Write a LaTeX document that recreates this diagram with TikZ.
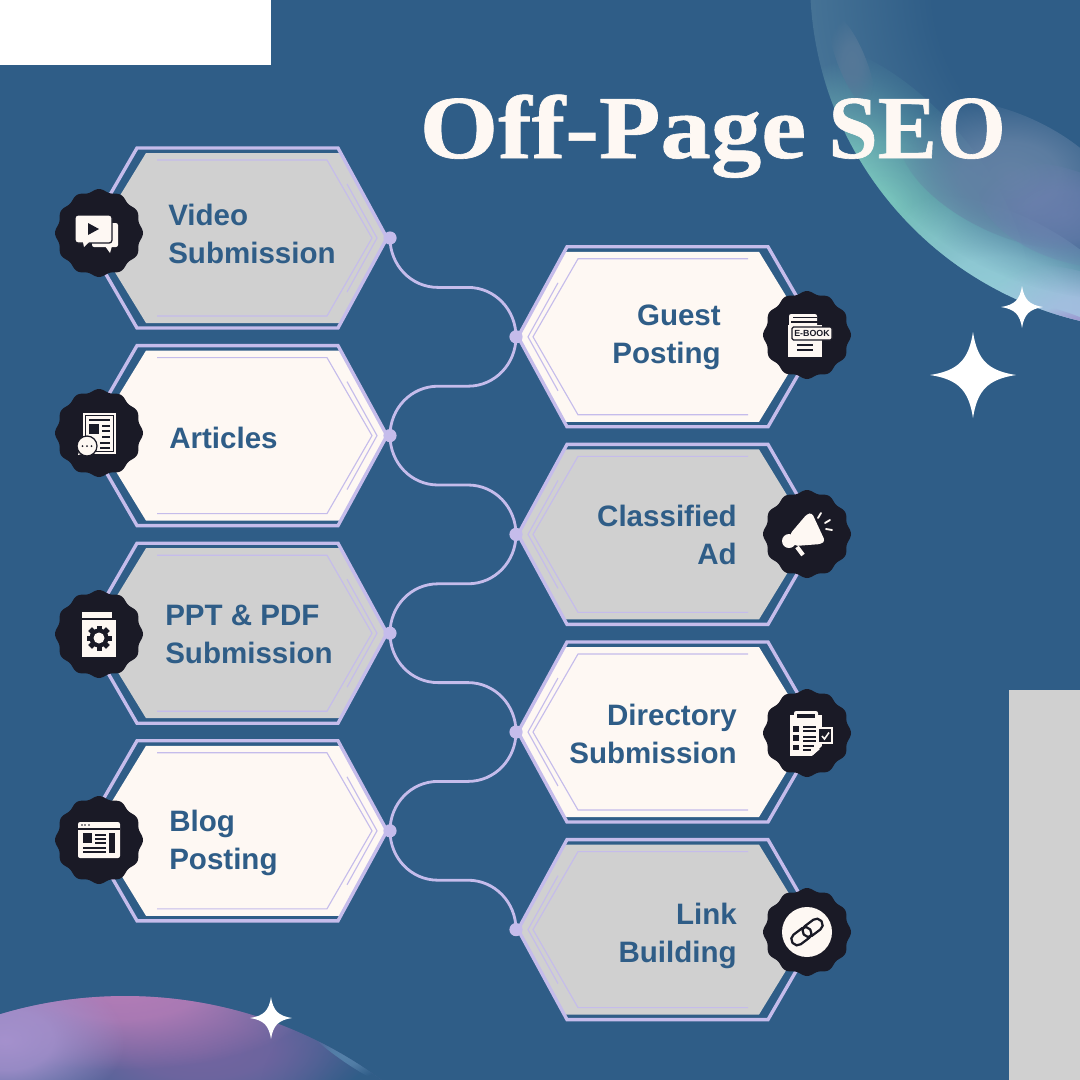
\documentclass[tikz,border=0pt]{standalone}
\usepackage{fontspec}
\setmainfont{Liberation Sans}
\newfontfamily\titlefont[BoldFeatures={FakeBold=0.7}]{Liberation Serif}
\usepackage{xcolor}
\usetikzlibrary{positioning, calc, fadings}

\pgfdeclareradialshading{softglowshade}{\pgfpointorigin}{color(0bp)=(pgftransparent!0); color(10bp)=(pgftransparent!15); color(25bp)=(pgftransparent!100); color(50bp)=(pgftransparent!100)}
\pgfdeclarefading{softglow}{\pgfuseshading{softglowshade}}
\pgfdeclareradialshading{softcovershade}{\pgfpointorigin}{color(0bp)=(pgftransparent!0); color(15bp)=(pgftransparent!0); color(25bp)=(pgftransparent!100); color(50bp)=(pgftransparent!100)}
\pgfdeclarefading{softcover}{\pgfuseshading{softcovershade}}

\tikzset{
  hexedge/.style={line width=2.4pt, hexlav, line join=miter},
  hexthin/.style={line width=0.8pt, hexlav},
  wire/.style={line width=2pt, hexlav},
  dotnode/.style={circle, fill=hexlav, inner sep=0pt, minimum size=0.33cm},
  hexlabel/.style={font=\fontsize{21}{27}\selectfont\bfseries, text=seoblue, inner sep=0pt},
  icon/.style={fill=cream},
  icondark/.style={fill=badgedark},
  iconline/.style={draw=badgedark, line width=0.9pt}
}

% hexagon: tip x, tip y, direction, fill colour
\newcommand{\hexbox}[4]{
  \begin{scope}[shift={(#1,#2)}, xscale=#3]
    \fill[#4] (-241,-85) -- (-46,-85) -- (0,0) -- (-46,85) -- (-241,85) -- (-293,0) -- cycle;
    \draw[hexedge] (-49,-90) -- (0,0) -- (-49,90) -- (-250,90) -- (-302,0) -- (-250,-90) -- cycle;
    \draw[hexthin] (-230,-78) -- (-60,-78) -- (-15,0) -- (-60,78) -- (-230,78);
    \draw[hexthin] (-40,-54) -- (-10,0) -- (-40,54);
  \end{scope}
}

% connector: direction, from, to
\newcommand{\wirelink}[3]{
  \draw[wire] (#2.center) .. controls +(0,27) and +({-27*#1},0) .. ($(#2.center)+({48*#1},49.4)$)
    -- ($(#3.center)+({-48*#1},-49.4)$) .. controls +({27*#1},0) and +(0,-27) .. (#3.center);
}

% wavy round badge
\newcommand{\badge}[2]{
  \fill[badgedark] plot[domain=0:360, samples=145, smooth] ({#1+(42.6+1.4*cos(12*\x))*cos(\x)},{#2+(42.6+1.4*cos(12*\x))*sin(\x)}) -- cycle;
}

% four pointed star
\newcommand{\sparkle}[3]{
  \begin{scope}[shift={(#1,#2)}, scale=#3]
    \fill[white] (0,-1) .. controls (.1,-.35) and (.35,-.1) .. (1,0)
      .. controls (.35,.1) and (.1,.35) .. (0,1)
      .. controls (-.1,.35) and (-.35,.1) .. (-1,0)
      .. controls (-.35,-.1) and (-.1,-.35) .. (0,-1) -- cycle;
  \end{scope}
}

\begin{document}
\begin{tikzpicture}[x=0.025cm, y=-0.025cm]

% Define colors
\definecolor{seoblue}{RGB}{47,93,135}
\definecolor{hexlav}{RGB}{197,188,235}
\definecolor{hexgray}{RGB}{208,208,208}
\definecolor{cream}{RGB}{254,248,243}
\definecolor{badgedark}{RGB}{26,26,38}
\definecolor{bubbase}{RGB}{70,115,150}
\definecolor{bubmid}{RGB}{100,130,165}
\definecolor{bubpale}{RGB}{85,120,152}
\definecolor{bubteal}{RGB}{120,195,188}
\definecolor{bubsky}{RGB}{150,208,218}
\definecolor{bubdusk}{RGB}{112,128,178}
\definecolor{bubrim}{RGB}{165,190,225}
\definecolor{bubviolet}{RGB}{155,145,205}
\definecolor{lowbase}{RGB}{72,100,150}
\definecolor{lowpink}{RGB}{182,125,184}
\definecolor{lowlilac}{RGB}{165,145,205}
\definecolor{lowdusk}{RGB}{115,100,160}
\definecolor{lowrim}{RGB}{85,130,170}

\useasboundingbox (0,0) rectangle (1080,1080);
\fill[seoblue] (0,0) rectangle (1080,1080);

% Corner blocks
\fill[white] (0,0) rectangle (271,65);
\fill[hexgray] (1009,690) rectangle (1080,1080);

% Bubble top right
\begin{scope}
  \clip (1160,-20) circle (350);
  \fill[bubbase] (1160,-20) circle (350);
  \fill[bubteal, path fading=softglow, rotate around={-50:(885,200)}] (885,200) ellipse (190 and 100);
  \fill[bubsky, path fading=softglow, rotate around={-28:(1000,305)}] (1000,305) ellipse (160 and 90);
  \fill[bubrim, path fading=softglow, rotate around={-20:(1085,325)}] (1085,325) ellipse (110 and 50);
  \fill[seoblue, path fading=softcover] (1125,-15) circle (315);
  \fill[bubmid, path fading=softglow, rotate around={-25:(1010,175)}] (1010,175) ellipse (120 and 60);
  \fill[bubdusk, opacity=.7, path fading=softglow, rotate around={-20:(1065,215)}] (1065,215) ellipse (90 and 45);
  \fill[bubpale, path fading=softglow, rotate around={-68:(852,62)}] (852,62) ellipse (50 and 14);
  \fill[bubviolet, path fading=softglow, rotate around={-22:(1080,330)}] (1080,330) ellipse (65 and 12);
\end{scope}

% Bubble bottom left
\begin{scope}
  \clip (125,1430) circle (434);
  \fill[lowbase] (125,1430) circle (434);
  \fill[seoblue, path fading=softglow] (370,1090) ellipse (110 and 90);
  \fill[lowdusk, path fading=softglow] (200,1050) ellipse (170 and 70);
  \fill[lowpink, path fading=softglow] (120,985) ellipse (210 and 85);
  \fill[lowlilac, path fading=softglow] (5,1040) ellipse (120 and 75);
  \fill[lowrim, path fading=softglow, rotate around={-35:(345,1055)}] (345,1055) ellipse (45 and 6);
\end{scope}

% Title
\node[anchor=base west, inner sep=0pt, text=cream] (title) at (419.5,158) {\fontsize{64}{70}\selectfont\titlefont\bfseries\scalebox{1.12}[1]{Off-Page} \scalebox{.985}[1]{SEO}};

% Hexagons on the left
\hexbox{387}{238}{1}{hexgray}
\hexbox{387}{435.6}{1}{cream}
\hexbox{387}{633.2}{1}{hexgray}
\hexbox{387}{830.8}{1}{cream}

% Hexagons on the right
\hexbox{518}{336.8}{-1}{cream}
\hexbox{518}{534.4}{-1}{hexgray}
\hexbox{518}{732}{-1}{cream}
\hexbox{518}{929.6}{-1}{hexgray}

% Connection points
\node[dotnode] (dotvideo) at (390,238) {};
\node[dotnode] (dotguest) at (516,336.8) {};
\node[dotnode] (dotarticles) at (390,435.6) {};
\node[dotnode] (dotclassified) at (516,534.4) {};
\node[dotnode] (dotppt) at (390,633.2) {};
\node[dotnode] (dotdirectory) at (516,732) {};
\node[dotnode] (dotblog) at (390,830.8) {};
\node[dotnode] (dotlink) at (516,929.6) {};

% Connectors
\wirelink{1}{dotvideo}{dotguest}
\wirelink{-1}{dotguest}{dotarticles}
\wirelink{1}{dotarticles}{dotclassified}
\wirelink{-1}{dotclassified}{dotppt}
\wirelink{1}{dotppt}{dotdirectory}
\wirelink{-1}{dotdirectory}{dotblog}
\wirelink{1}{dotblog}{dotlink}

% Labels
\node[hexlabel, anchor=west, align=left] (lvideo) at (168,234) {Video\\Submission};
\node[hexlabel, anchor=west, align=left] (larticles) at (169,438) {Articles};
\node[hexlabel, anchor=west, align=left] (lppt) at (165,634) {PPT \& PDF\\Submission};
\node[hexlabel, anchor=west, align=left] (lblog) at (169,843) {Blog\\Posting};
\node[hexlabel, anchor=east, align=right] (lguest) at (721,337) {Guest\\Posting};
\node[hexlabel, anchor=east, align=right] (lclassified) at (737,535) {Classified\\Ad};
\node[hexlabel, anchor=east, align=right] (ldirectory) at (737,734) {Directory\\Submission};
\node[hexlabel, anchor=east, align=right] (llink) at (737,936) {Link\\Building};

% Badges
\badge{99}{233}
\badge{99}{433}
\badge{99}{634}
\badge{99}{840}
\badge{807}{335}
\badge{807}{534}
\badge{807}{733}
\badge{807}{932}

% Icon video
\fill[icon, rounded corners=1.5] (92,223) rectangle (118,247);
\fill[icon] (105,246) -- (112,246) -- (110,253) -- cycle;
\draw[icon, draw=badgedark, line width=0.9pt, rounded corners=2] (75,215) rectangle (112,243);
\fill[icon] (83,242) -- (89,242) -- (84,247) -- cycle;
\fill[icondark] (88,223) -- (99,229) -- (88,235) -- cycle;

% Icon articles
\fill[icon] (83,413) rectangle (116,454);
\draw[iconline] (85.5,415.5) rectangle (113.5,451.5);
\fill[icondark] (89,424) rectangle (99,434);
\draw[iconline] (89,420) -- (110,420);
\draw[iconline] (102,426) -- (110,426);
\draw[iconline] (102,431) -- (110,431);
\draw[iconline] (102,437) -- (110,437);
\draw[iconline] (100,443) -- (110,443);
\draw[iconline] (100,448) -- (110,448);
\fill[icon] (78,455) -- (80,448) -- (85,453) -- cycle;
\draw[icon, draw=badgedark, line width=0.9pt] (87,446) circle (10);
\fill[icondark] (82.5,446) circle (1);
\fill[icondark] (87,446) circle (1);
\fill[icondark] (91.5,446) circle (1);

% Icon book with gear
\fill[icon] (82,612) rectangle (112,618);
\fill[icon] (82,619.5) rectangle (116,657);
\fill[icondark] (99,638) circle (9.5);
\foreach \a in {0,45,...,315}{
  \fill[icondark, rotate around={\a:(99,638)}] (96.5,625.5) rectangle (101.5,650.5);
}
\fill[icon] (99,638) circle (5.5);

% Icon blog page
\fill[icon, rounded corners=1.5] (78,822) rectangle (120,858);
\fill[icondark] (82,825) circle (0.9);
\fill[icondark] (85,825) circle (0.9);
\fill[icondark] (89,825) circle (0.9);
\draw[iconline] (78,829) -- (120,829);
\fill[icondark] (83,833) rectangle (92,843);
\fill[icondark] (109,833) rectangle (115,853);
\draw[iconline] (95,835) -- (106,835);
\draw[iconline] (95,839) -- (106,839);
\draw[iconline] (95,843) -- (106,843);
\draw[iconline] (83,848) -- (106,848);
\draw[iconline] (83,852) -- (106,852);

% Icon e-book
\fill[icon, rounded corners=1.5] (789,314) rectangle (817,328);
\draw[iconline] (793,317.5) -- (817,317.5);
\draw[iconline] (791,322) -- (820,322);
\fill[icon] (788,325) rectangle (822,357);
\draw[draw=badgedark, icon, line width=0.9pt, rounded corners=1] (792,327) rectangle (832,340);
\node[inner sep=0pt, text=badgedark, font=\fontsize{6.3}{7}\selectfont\bfseries] (ebook) at (812,333.5) {E-BOOK};
\draw[iconline] (797,345) -- (813,345);
\draw[iconline] (797,350) -- (813,350);

% Icon megaphone
\fill[icon, rounded corners=2] (807,514) -- (812,513) -- (825,541) -- (821,544) -- (795,546) -- (790,534) -- cycle;
\fill[icon] (789,541) circle (7);
\draw[cream, line width=3pt] (797,547) -- (803,555);
\draw[cream, line width=1.3pt, line cap=round] (818,518) -- (821,513);
\draw[cream, line width=1.3pt, line cap=round] (825,523) -- (830,520);
\draw[cream, line width=1.3pt, line cap=round] (826,529) -- (832,530);

% Icon clipboard
\fill[icon] (790,715) rectangle (822,756);
\fill[icondark] (812,756) -- (822,756) -- (822,746) -- cycle;
\fill[icon] (813,755) -- (813,749) -- (820,749) -- cycle;
\fill[icon, rounded corners=1.5] (794,711) rectangle (818,720);
\fill[icondark] (797,713.5) rectangle (815,718);
\fill[icondark] (793,726) rectangle (799,732);
\fill[icondark] (793,735) rectangle (799,741);
\fill[icondark] (793,745) rectangle (799,750);
\draw[iconline] (803,727) -- (816,727);
\draw[iconline] (803,731) -- (816,731);
\draw[iconline] (803,737) -- (816,737);
\draw[iconline] (803,741) -- (816,741);
\draw[iconline] (803,746) -- (814,746);
\draw[iconline] (803,750) -- (811,750);
\fill[icon] (817,727) rectangle (833,744);
\fill[icondark] (819,729) rectangle (831,742);
\draw[cream, line width=1.1pt] (822,736) -- (824.5,739) -- (829,732.5);

% Icon chain link
\fill[icon] (807,932) circle (25);
\begin{scope}[rotate around={37:(807,932)}]
  \draw[badgedark, line width=1.6pt, rounded corners=4] (789,926) rectangle (811,938);
  \draw[badgedark, line width=1.6pt, rounded corners=4] (803,926) rectangle (825,938);
\end{scope}

% Stars
\sparkle{973}{375}{43}
\sparkle{1022}{307}{21}
\sparkle{271}{1018}{21}

\end{tikzpicture}
\end{document}
